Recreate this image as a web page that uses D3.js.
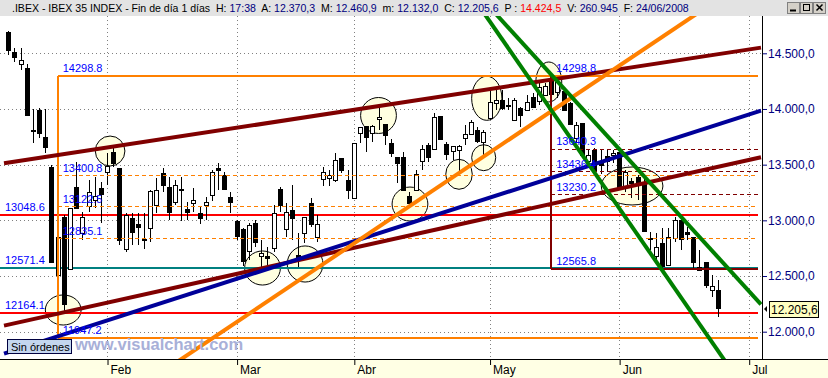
<!DOCTYPE html>
<html>
<head>
<meta charset="utf-8">
<script src="https://cdn.jsdelivr.net/npm/d3@7"></script>
<style>
  body { margin: 0; background: #fff; }
  svg { display: block; font-family: "Liberation Sans", Arial, sans-serif; }
</style>
</head>
<body>
<div id="chart"></div>
<script>
const w = 828;
const h = 378;
const plotTop = 16;
const plotBottom = 359;
const plotRight = 762;

// trading calendar
const firstDay = new Date(2008, 0, 10);
const lastDay = new Date(2008, 6, 2);
const holidays = ["2008-03-21", "2008-03-24", "2008-05-01"];
const monthNames = ["Feb", "Mar", "Abr", "May", "Jun", "Jul"];

// daily candles, IBEX 35 (10 Jan - 24 Jun 2008)
const open = [14689, 14509, 14404, 14371, 13811, 13991, 13746, 13482, 12516, 13030,
  12563, 13297, 12884, 13122, 13189, 13290, 13437, 13616, 13467, 12743,
  13018, 12964, 12830, 12929, 13138, 13428, 13299, 13162, 13277, 13102,
  13153, 13063, 13144, 13228, 13473, 13407, 13212, 12994, 12920, 12727,
  12979, 12680, 12680, 12749, 13279, 12929, 13093, 12689, 12889, 13153,
  12848, 13378, 13378, 13362, 13557, 13362, 13207, 13791, 13847, 13787,
  13907, 13862, 13692, 13566, 13572, 13219, 13272, 13533, 13677, 13638,
  13937, 13686, 13623, 13638, 13737, 13775, 13811, 13706, 13916, 14051,
  14081, 14040, 13901, 14006, 13991, 14110, 14072, 14132, 14260, 14150,
  14162, 14051, 13737, 13871, 13533, 13632, 13515, 13578, 13581, 13616,
  13302, 13353, 13387, 13333, 12837, 12683, 12794, 12605, 12844, 13003,
  12893, 12853, 12554, 12629, 12375, 12370.3];
const high = [14700, 14548, 14545, 14401, 14000, 14006, 14000, 13497, 12898, 13048,
  13114, 13527, 13078, 13362, 13392, 13347, 13602, 13652, 13467, 13063,
  13063, 13063, 13063, 13272, 13378, 13467, 13392, 13362, 13392, 13167,
  13288, 13122, 13212, 13452, 13518, 13437, 13257, 13003, 12931, 12973,
  13003, 12824, 12763, 13138, 13302, 13153, 13317, 12884, 13033, 13198,
  13048, 13482, 13452, 13602, 13557, 13452, 13697, 13841, 13847, 13856,
  14021, 13862, 13730, 13572, 13616, 13257, 13452, 13677, 13692, 13961,
  13937, 13706, 13668, 13677, 13856, 13901, 13841, 13811, 14170, 14170,
  14170, 14096, 14096, 14021, 14126, 14141, 14245, 14231, 14298.8, 14260,
  14186, 14065, 13886, 13871, 13632, 13647, 13632, 13632, 13632, 13632,
  13452, 13383, 13407, 13383, 12898, 12884, 12929, 12929, 13033, 13048,
  12943, 12853, 12734, 12629, 12509, 12460.9];
const low = [14485, 14419, 14350, 13945, 13692, 13737, 13607, 12626, 11947.2, 12164.1,
  12554, 13099, 12824, 13078, 13114, 12973, 13317, 13482, 12779, 12718,
  12779, 12779, 12743, 12808, 13063, 13257, 13003, 13138, 12992, 13003,
  13078, 12964, 13003, 13174, 13272, 13272, 13063, 12824, 12590, 12644,
  12763, 12571.4, 12599, 12718, 13078, 12853, 12824, 12584, 12794, 12943,
  12808, 13308, 13308, 13347, 13422, 13189, 13207, 13692, 13616, 13706,
  13811, 13677, 13572, 13333, 13272, 13108, 13272, 13452, 13527, 13632,
  13730, 13542, 13542, 13437, 13677, 13766, 13697, 13587, 13916, 13991,
  13991, 13991, 13901, 13841, 13991, 14012, 14036, 14119, 14036, 14101,
  13991, 13856, 13692, 13587, 13512, 13452, 13413, 13437, 13512, 13288,
  13257, 13198, 13183, 12904, 12734, 12629, 12565.8, 12605, 12808, 12734,
  12824, 12570, 12554, 12390, 12314, 12132.0];
const close = [14523, 14461, 14440, 13952, 13807, 13782, 13652, 12629, 12853, 12249,
  13108, 13108, 13027, 13252, 13221, 13234, 13491, 13521, 12823, 13048,
  12893, 12938, 12817, 13264, 13272, 13317, 13078, 13317, 13264, 13078,
  13183, 13018, 13167, 13437, 13458, 13279, 13167, 12862, 12629, 12958,
  12808, 12704, 12659, 13063, 13132, 13078, 13024, 12653, 13033, 12964,
  12964, 13437, 13407, 13542, 13452, 13272, 13697, 13841, 13746, 13850,
  13925, 13766, 13602, 13512, 13272, 13158, 13413, 13641, 13572, 13925,
  13730, 13596, 13668, 13670, 13775, 13880, 13712, 13796, 14060, 14081,
  14006, 14031, 14081, 13946, 14060, 14021, 14200, 14209, 14132, 14240,
  13991, 13862, 13856, 13587, 13587, 13452, 13497, 13533, 13602, 13302,
  13431, 13335, 13317, 12904, 12828, 12763, 12584, 12853, 13003, 12832,
  12877, 12629, 12584, 12419, 12411, 12205.6];

const volume = "260.945";
const prevValue = 14424.5;
const priceTicks = [12000, 12500, 13000, 13500, 14000, 14500];

// horizontal levels
const redLevels = [13048.6, 12164.1];
const tealLevels = [12571.4];
// fibonacci: start candle index, levels (top, inner..., bottom)
const fibOrangeStart = 8;
const fibOrange = [14298.8, 13400.8, 13122.5, 12835.1, 11947.2];
const fibMaroonStart = 88;
const fibMaroon = [14298.8, 13640.3, 13436.4, 13230.2, 12565.8];

// trend lines: two anchor points [candle index, price]
const trendMaroonA = [[0, 13518], [120, 14534]];
const trendMaroonB = [[0, 12063], [120, 13542]];
const trendBlue = [[0, 11816], [120, 13950]];
const trendOrange = [[40, 12198], [100, 14425]];
const trendGreenA = [[80, 14629], [110, 12230]];
const trendGreenB = [[80, 14794], [115, 12670]];

// marked zones: [index from, index to, price low, price high]
const zones = [
  [6.0, 11.8, 12060, 12330],
  [14.1, 18.9, 13488, 13757],
  [38.3, 44.1, 12419, 12725],
  [45.2, 51.0, 12446, 12770],
  [62.2, 68.0, 12994, 13299],
  [57.1, 62.9, 13780, 14103],
  [70.9, 75.2, 13279, 13548],
  [75.1, 79.0, 13446, 13679],
  [75.1, 80.0, 13898, 14294],
  [85.5, 89.7, 14063, 14422],
  [96.1, 106.1, 13138, 13479]
];

const fmt = d3.formatLocale({decimal: ",", thousands: ".", grouping: [3], currency: ["", ""]}).format(",.1f");

const days = d3.timeDay.range(firstDay, lastDay).filter(d => {
  const wd = d.getDay();
  return wd !== 0 && wd !== 6 && !holidays.includes(d3.timeFormat("%Y-%m-%d")(d));
});
const monthStarts = [];
days.forEach((d, i) => {
  if (i > 0 && d.getMonth() !== days[i - 1].getMonth()) monthStarts.push(i);
});

const x = d3.scaleLinear().domain([0, 120]).range([8.3, 748.7]);
const y = d3.scaleLinear().domain([12000, 14500]).range([331.7, 53.3]);

const svg = d3.select("#chart").append("svg")
  .attr("width", w).attr("height", h);

svg.append("defs").append("clipPath").attr("id", "plotclip")
  .append("rect").attr("x", 0).attr("y", plotTop).attr("width", plotRight).attr("height", plotBottom - plotTop);

svg.append("rect").attr("width", w).attr("height", h).attr("fill", "#fff");

// grid
const grid = svg.append("g").attr("stroke", "#808080").attr("stroke-dasharray", "1,3").attr("shape-rendering", "crispEdges");
grid.selectAll(".hg").data(priceTicks).join("line")
  .attr("x1", 0).attr("x2", plotRight)
  .attr("y1", d => Math.round(y(d)) + 0.5).attr("y2", d => Math.round(y(d)) + 0.5);
grid.selectAll(".vg").data(monthStarts).join("line")
  .attr("y1", plotTop).attr("y2", plotBottom)
  .attr("x1", d => Math.round(x(d)) + 0.5).attr("x2", d => Math.round(x(d)) + 0.5);

const plot = svg.append("g").attr("clip-path", "url(#plotclip)");

// zones
plot.selectAll(".zone").data(zones).join("ellipse")
  .attr("cx", d => (x(d[0]) + x(d[1])) / 2)
  .attr("cy", d => (y(d[2]) + y(d[3])) / 2)
  .attr("rx", d => (x(d[1]) - x(d[0])) / 2)
  .attr("ry", d => (y(d[2]) - y(d[3])) / 2)
  .attr("fill", "#ffffe0").attr("stroke", "#000").attr("stroke-width", 1);

// horizontal levels
plot.selectAll(".red").data(redLevels).join("line")
  .attr("x1", 0).attr("x2", plotRight - 4)
  .attr("y1", d => y(d)).attr("y2", d => y(d))
  .attr("stroke", "#ff0000").attr("stroke-width", 2).attr("shape-rendering", "crispEdges");
plot.selectAll(".teal").data(tealLevels).join("line")
  .attr("x1", 0).attr("x2", plotRight - 4)
  .attr("y1", d => y(d)).attr("y2", d => y(d))
  .attr("stroke", "#008080").attr("stroke-width", 2).attr("shape-rendering", "crispEdges");

// candles
const candles = open.map((o, i) => ({i, o, h: high[i], l: low[i], c: close[i]}));
const cg = plot.append("g").attr("shape-rendering", "crispEdges");
cg.selectAll(".wick").data(candles).join("line")
  .attr("x1", d => Math.round(x(d.i)) + 0.5).attr("x2", d => Math.round(x(d.i)) + 0.5)
  .attr("y1", d => y(d.h)).attr("y2", d => y(d.l))
  .attr("stroke", "#000");
cg.selectAll(".body").data(candles).join("rect")
  .attr("x", d => Math.round(x(d.i)) - 1.5)
  .attr("y", d => Math.round(y(Math.max(d.o, d.c))) + 0.5)
  .attr("width", 4)
  .attr("height", d => Math.max(1, Math.round(Math.abs(y(d.o) - y(d.c)))))
  .attr("fill", d => d.c >= d.o ? "#fff" : "#000")
  .attr("stroke", "#000");

// fibonacci sets
function drawFib(startIdx, levels, color, withVertical) {
  const g = plot.append("g").attr("shape-rendering", "crispEdges");
  const x0 = Math.round(x(startIdx));
  const last = levels.length - 1;
  g.selectAll("line").data(levels).join("line")
    .attr("x1", x0).attr("x2", plotRight - 4)
    .attr("y1", d => y(d)).attr("y2", d => y(d))
    .attr("stroke", color)
    .attr("stroke-width", (d, i) => i === 0 || i === last ? 2 : 1)
    .attr("stroke-dasharray", (d, i) => i === 0 || i === last ? null : "4,3");
  g.append("line")
    .attr("x1", x0).attr("x2", x0)
    .attr("y1", y(levels[0])).attr("y2", y(levels[last]))
    .attr("stroke", color).attr("stroke-width", 2);
  return g;
}
drawFib(fibOrangeStart, fibOrange, "#ff8000");
const fibM = drawFib(fibMaroonStart, fibMaroon, "#800000");
fibM.select("line").remove(); // top of maroon set is covered by orange

// trend lines
const trends = [
  [trendMaroonA, "#800000"],
  [trendMaroonB, "#800000"],
  [trendBlue, "#000099"],
  [trendOrange, "#ff8000"],
  [trendGreenA, "#008000"],
  [trendGreenB, "#008000"]
];
const xStart = x.invert(4);
const xStop = x.invert(plotRight - 1);
plot.selectAll(".trend").data(trends).join("line")
  .attr("x1", x(xStart))
  .attr("x2", x(xStop))
  .attr("y1", d => {
    const [[i0, v0], [i1, v1]] = d[0];
    return y(v0 + (v1 - v0) * (xStart - i0) / (i1 - i0));
  })
  .attr("y2", d => {
    const [[i0, v0], [i1, v1]] = d[0];
    return y(v0 + (v1 - v0) * (xStop - i0) / (i1 - i0));
  })
  .attr("stroke", d => d[1]).attr("stroke-width", 4);

// level labels
const labels = svg.append("g").attr("font-size", 11).attr("fill", "#0000ff");
redLevels.concat(tealLevels).forEach(v => {
  labels.append("text").attr("x", 5).attr("y", y(v) - 4).text(v.toFixed(1));
});
fibOrange.forEach(v => {
  labels.append("text").attr("x", x(fibOrangeStart) + 5).attr("y", y(v) - 4).text(v.toFixed(1));
});
fibMaroon.forEach(v => {
  labels.append("text").attr("x", x(fibMaroonStart) + 5).attr("y", y(v) - 4).text(v.toFixed(1));
});

// y axis (right)
svg.append("rect").attr("x", plotRight).attr("y", plotTop).attr("width", w - plotRight).attr("height", plotBottom - plotTop).attr("fill", "#fff");
const yAxis = d3.axisRight(y).tickValues(priceTicks).tickFormat(fmt).tickSize(5).tickPadding(1);
const ya = svg.append("g").attr("transform", "translate(" + plotRight + ",0)").call(yAxis);
ya.select(".domain").remove();
ya.selectAll(".tick line").attr("stroke", "#000080");
ya.selectAll(".tick text").attr("fill", "#000080").attr("font-size", 12).attr("font-family", "Liberation Sans, Arial, sans-serif");
svg.append("line").attr("x1", plotRight + 0.5).attr("x2", plotRight + 0.5).attr("y1", plotTop).attr("y2", plotBottom)
  .attr("stroke", "#000");

// last price marker
const lastClose = close[close.length - 1];
const pm = svg.append("g").attr("transform", "translate(0," + Math.round(y(lastClose)) + ")");
pm.append("path").attr("d", "M764,0 L767,-3 L767,3 Z").attr("fill", "#000");
pm.append("rect").attr("x", 769.5).attr("y", -7.5).attr("width", 49).attr("height", 16)
  .attr("fill", "#ffffc0").attr("stroke", "#000");
pm.append("text").attr("x", 771).attr("y", 5).attr("font-size", 12).attr("fill", "#000").text(fmt(lastClose));

// x axis strip
svg.append("rect").attr("x", 0).attr("y", plotBottom).attr("width", w).attr("height", h - plotBottom).attr("fill", "#ffffe4");
svg.append("line").attr("x1", 0).attr("x2", w).attr("y1", plotBottom + 0.5).attr("y2", plotBottom + 0.5).attr("stroke", "#000");
const xAxis = d3.axisBottom(x).tickValues(monthStarts).tickFormat((d, i) => monthNames[i]).tickSize(6).tickPadding(2);
const xa = svg.append("g").attr("transform", "translate(0," + plotBottom + ")").call(xAxis);
xa.select(".domain").remove();
xa.selectAll(".tick line").attr("stroke", "#000").attr("transform", "translate(0.5,0)");
xa.selectAll(".tick text").attr("text-anchor", "start").attr("dx", 3).attr("dy", 0).attr("y", 15)
  .attr("font-size", 12).attr("fill", "#000").attr("font-family", "Liberation Sans, Arial, sans-serif");

// watermark and status box
svg.append("text").attr("x", 75).attr("y", 350).attr("font-size", 16.5).attr("font-weight", "bold")
  .attr("fill", "#a8b0d8").text("www.visualchart.com");
svg.append("rect").attr("x", 7.5).attr("y", 339.5).attr("width", 64).attr("height", 14)
  .attr("fill", "#c4d6ee").attr("stroke", "#000040");
svg.append("text").attr("x", 11).attr("y", 350.5).attr("font-size", 11).attr("fill", "#000").text("Sin órdenes");

// title bar
svg.append("rect").attr("x", 0).attr("y", 0).attr("width", w).attr("height", plotTop).attr("fill", "#e3e3e3");
const n = open.length - 1;
const parts = [
  [".IBEX - IBEX 35 INDEX - Fin de día 1 días  H: ", "#000"], ["17:38", "#000080"],
  ["  A: ", "#000"], [fmt(open[n]), "#000080"],
  ["  M: ", "#000"], [fmt(high[n]), "#000080"],
  ["  m: ", "#000"], [fmt(low[n]), "#000080"],
  ["  C: ", "#000"], [fmt(close[n]), "#000080"],
  ["  P : ", "#000"], [fmt(prevValue), "#ff0000"],
  ["  V: ", "#000"], [volume, "#000080"],
  ["  F: ", "#000"], [d3.timeFormat("%d/%m/%Y")(days[n]), "#000080"]
];
const title = svg.append("text").attr("x", 12).attr("y", 12).attr("font-size", 12).style("white-space", "pre");
parts.forEach(p => title.append("tspan").attr("fill", p[1]).text(p[0]));
const tl = title.node().getComputedTextLength();
title.attr("font-size", 12 * 677 / tl);

// window buttons
const btn = svg.append("g");
["min", "max", "close"].forEach((b, i) => {
  const bx = 787 + i * 13;
  btn.append("rect").attr("x", bx + 0.5).attr("y", 2.5).attr("width", 12).attr("height", 11)
    .attr("fill", "#d4d0c8").attr("stroke", "#808080");
  if (b === "min") btn.append("line").attr("x1", bx + 3).attr("x2", bx + 9).attr("y1", 10.5).attr("y2", 10.5).attr("stroke", "#000").attr("stroke-width", 2);
  if (b === "max") btn.append("rect").attr("x", bx + 3.5).attr("y", 4.5).attr("width", 6).attr("height", 6).attr("fill", "none").attr("stroke", "#000");
  if (b === "close") btn.append("path").attr("d", "M" + (bx + 3.5) + ",4.5 L" + (bx + 9.5) + ",10.5 M" + (bx + 9.5) + ",4.5 L" + (bx + 3.5) + ",10.5").attr("stroke", "#000").attr("stroke-width", 1.5);
});
</script>
</body>
</html>
